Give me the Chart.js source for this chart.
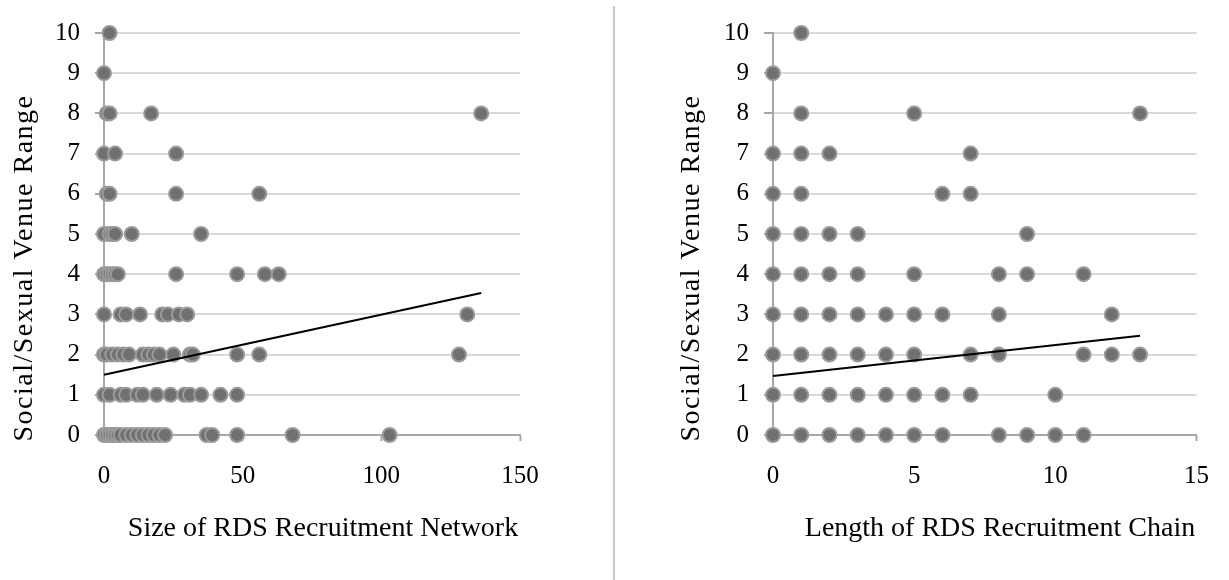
<!DOCTYPE html>
<html>
<head>
<meta charset="utf-8">
<script src="https://cdn.jsdelivr.net/npm/chart.js@4/dist/chart.umd.min.js"></script>
<style>
  html, body { margin: 0; padding: 0; background: #fff; }
  #wrap { position: relative; width: 1229px; height: 580px; overflow: hidden; }
  #c1 { position: absolute; left: 0; top: 0; }
  #c2 { position: absolute; left: 614px; top: 0; }
  #divider { position: absolute; left: 613px; top: 6px; width: 2px; height: 574px; background: #c8c8c8; }
</style>
</head>
<body>
<div id="wrap">
  <canvas id="c1" width="614" height="580"></canvas>
  <div id="divider"></div>
  <canvas id="c2" width="615" height="580"></canvas>
</div>
<script>
// ---- Data: Size of RDS Recruitment Network vs Social/Sexual Venue Range ----
const networkX = [
  2,
  0,
  1, 2, 17, 136,
  0, 4, 26,
  1, 2, 26, 56,
  0, 2, 3, 4, 10, 35,
  0, 1, 2, 3, 4, 5, 26, 48, 58, 63,
  0, 6, 8, 13, 21, 23, 27, 30, 131,
  0, 1, 3, 5, 7, 9, 14, 16, 18, 20, 25, 31, 32, 48, 56, 128,
  0, 2, 6, 8, 12, 14, 19, 24, 29, 31, 35, 42, 48,
  0, 1, 2, 3, 4, 5, 6, 8, 10, 12, 14, 16, 18, 20, 22, 37, 39, 48, 68, 103
];
const networkY = [
  10,
  9,
  8, 8, 8, 8,
  7, 7, 7,
  6, 6, 6, 6,
  5, 5, 5, 5, 5, 5,
  4, 4, 4, 4, 4, 4, 4, 4, 4, 4,
  3, 3, 3, 3, 3, 3, 3, 3, 3,
  2, 2, 2, 2, 2, 2, 2, 2, 2, 2, 2, 2, 2, 2, 2, 2,
  1, 1, 1, 1, 1, 1, 1, 1, 1, 1, 1, 1, 1,
  0, 0, 0, 0, 0, 0, 0, 0, 0, 0, 0, 0, 0, 0, 0, 0, 0, 0, 0, 0
];
const networkTrendX = [0, 136];
const networkTrendY = [1.5, 3.53];

// ---- Data: Length of RDS Recruitment Chain vs Social/Sexual Venue Range ----
const chainX = [
  1,
  0,
  1, 5, 13,
  0, 1, 2, 7,
  0, 1, 6, 7,
  0, 1, 2, 3, 9,
  0, 1, 2, 3, 5, 8, 9, 11,
  0, 1, 2, 3, 4, 5, 6, 8, 12,
  0, 1, 2, 3, 4, 5, 7, 8, 11, 12, 13,
  0, 1, 2, 3, 4, 5, 6, 7, 10,
  0, 1, 2, 3, 4, 5, 6, 8, 9, 10, 11
];
const chainY = [
  10,
  9,
  8, 8, 8,
  7, 7, 7, 7,
  6, 6, 6, 6,
  5, 5, 5, 5, 5,
  4, 4, 4, 4, 4, 4, 4, 4,
  3, 3, 3, 3, 3, 3, 3, 3, 3,
  2, 2, 2, 2, 2, 2, 2, 2, 2, 2, 2,
  1, 1, 1, 1, 1, 1, 1, 1, 1,
  0, 0, 0, 0, 0, 0, 0, 0, 0, 0, 0
];
const chainTrendX = [0, 13];
const chainTrendY = [1.47, 2.47];

// ---- Axis labels ----
const yTitle = 'Social/Sexual Venue Range';
const xTitleLeft = 'Size of RDS Recruitment Network';
const xTitleRight = 'Length of RDS Recruitment Chain';
const yTicks = [0, 1, 2, 3, 4, 5, 6, 7, 8, 9, 10];
const xTicksLeft = [0, 50, 100, 150];
const xTicksRight = [0, 5, 10, 15];

const FONT = "'Liberation Serif', 'Times New Roman', serif";
const AXIS = '#a6a6a6';
const GRID = '#d9d9d9';

function toPoints(xs, ys) { return xs.map((x, i) => ({ x: x, y: ys[i] })); }

// Axis titles drawn as canvas text (Excel-like placement and spacing)
const axisTitlePlugin = {
  id: 'axisTitles',
  afterDraw(chart, args, opts) {
    const ctx = chart.ctx;
    // x title
    ctx.save();
    ctx.font = opts.xSize + 'px ' + FONT;
    ctx.fillStyle = '#000';
    ctx.textAlign = 'center';
    ctx.textBaseline = 'middle';
    ctx.fillText(opts.xText, opts.xCx, opts.xCy);
    ctx.restore();
    // y title (rotated)
    ctx.save();
    ctx.font = opts.ySize + 'px ' + FONT;
    ctx.fillStyle = '#000';
    ctx.textAlign = 'center';
    ctx.textBaseline = 'middle';
    if ('letterSpacing' in ctx) ctx.letterSpacing = opts.yLetterSpacing + 'px';
    ctx.translate(opts.yCx, opts.yCy);
    ctx.rotate(-Math.PI / 2);
    ctx.fillText(opts.yText, 0, 0);
    ctx.restore();
  }
};

function makeChart(canvasId, xs, ys, tx, ty, xTicks, titles, cfg) {
  return new Chart(document.getElementById(canvasId), {
    type: 'scatter',
    plugins: [axisTitlePlugin],
    data: {
      datasets: [
        {
          data: toPoints(tx, ty),
          showLine: true,
          borderColor: '#000000',
          borderWidth: 2,
          pointRadius: 0,
          pointHoverRadius: 0,
          fill: false,
          clip: false
        },
        {
          data: toPoints(xs, ys),
          backgroundColor: '#707070',
          borderColor: '#9a9a9a',
          borderWidth: 2,
          pointRadius: 7,
          pointHoverRadius: 7,
          clip: false
        }
      ]
    },
    options: {
      responsive: false,
      animation: false,
      events: [],
      layout: { padding: { left: 0, right: cfg.rightPad, top: 33, bottom: 0 } },
      plugins: {
        legend: { display: false },
        tooltip: { enabled: false },
        axisTitles: titles
      },
      scales: {
        x: {
          type: 'linear',
          min: xTicks[0],
          max: xTicks[xTicks.length - 1],
          afterBuildTicks: s => { s.ticks = xTicks.map(v => ({ value: v })); },
          afterFit: s => { s.height = 145; },
          grid: { drawOnChartArea: false, drawTicks: true, tickLength: 6, tickColor: AXIS, tickWidth: 2 },
          border: { display: true, color: AXIS, width: 2 },
          ticks: { color: '#000', font: { family: FONT, size: 25 }, padding: 20, maxRotation: 0 },
          title: { display: false }
        },
        y: {
          type: 'linear',
          min: 0,
          max: 10,
          afterBuildTicks: s => { s.ticks = yTicks.map(v => ({ value: v })); },
          afterFit: s => { s.width = cfg.yWidth; },
          grid: {
            color: c => (c.tick && c.tick.value === 0) ? AXIS : GRID,
            lineWidth: 2,
            drawTicks: true,
            tickLength: 9,
            tickColor: AXIS,
            tickWidth: 2
          },
          border: { display: true, color: AXIS, width: 2 },
          ticks: { color: '#000', font: { family: FONT, size: 25 }, padding: 15 },
          title: { display: false }
        }
      }
    }
  });
}

makeChart('c1', networkX, networkY, networkTrendX, networkTrendY, xTicksLeft,
  { xText: xTitleLeft, xSize: 28, xCx: 323, xCy: 529,
    yText: yTitle, ySize: 28, yLetterSpacing: 1.5, yCx: 25, yCy: 268 },
  { rightPad: 94, yWidth: 104 });
makeChart('c2', chainX, chainY, chainTrendX, chainTrendY, xTicksRight,
  { xText: xTitleRight, xSize: 28, xCx: 386, xCy: 529,
    yText: yTitle, ySize: 28, yLetterSpacing: 1.5, yCx: 78, yCy: 268 },
  { rightPad: 29, yWidth: 159 });
</script>
</body>
</html>
